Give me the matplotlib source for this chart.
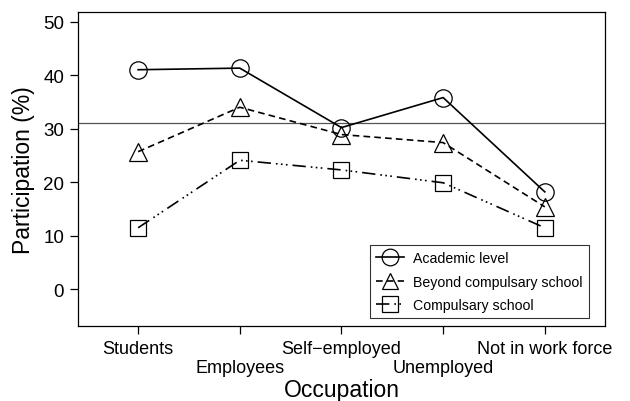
import matplotlib
matplotlib.use("Agg")
import matplotlib.pyplot as plt

plt.rcParams["font.family"] = ["Liberation Sans", "DejaVu Sans"]

occupations = ["Students", "Employees", "Self\u2212employed", "Unemployed", "Not in work force"]
academic = [41.0, 41.3, 30.2, 35.8, 18.2]
beyond = [25.7, 34.0, 28.9, 27.4, 15.4]
compulsary = [11.5, 24.1, 22.3, 19.9, 11.5]
ref_level = 31.1

x = list(range(1, len(occupations) + 1))

fig = plt.figure(figsize=(6.3, 4.02), dpi=100)
ax = fig.add_axes([0.124, 0.187, 0.836, 0.781])

ax.axhline(ref_level, color="#555555", lw=0.9, zorder=1)

mk = dict(markerfacecolor="none", markeredgecolor="black",
          markeredgewidth=0.9, color="black", lw=1.2)
ax.plot(x, academic, marker="o", ms=12.5, ls="-", label="Academic level", **mk)
ax.plot(x, beyond, marker="^", ms=13.5, ls=(0, (4, 2.5)), label="Beyond compulsary school", **mk)
ax.plot(x, compulsary, marker="s", ms=12, ls=(0, (8, 3, 1, 2, 1, 2, 1, 3)), label="Compulsary school", **mk)

ax.set_xlim(0.41, 5.59)
ax.set_ylim(-6.8, 51.8)
ax.set_yticks([0, 10, 20, 30, 40, 50])
# staggered category labels: odd positions on the first row, even ones below
ax.set_xticks(x[0::2])
ax.set_xticklabels(occupations[0::2])
ax.set_xticks(x[1::2], minor=True)
ax.set_xticklabels(occupations[1::2], minor=True)
ax.tick_params(axis="both", which="both", length=6, width=0.9, color="black")
ax.tick_params(axis="x", which="major", labelsize=13, pad=4)
ax.tick_params(axis="x", which="minor", labelsize=13, pad=18)
ax.tick_params(axis="y", labelsize=13.5, pad=4)
for sp in ax.spines.values():
    sp.set_linewidth(0.9)

ax.set_ylabel("Participation (%)", fontsize=16.5, labelpad=6)
ax.set_xlabel("Occupation", fontsize=16.5)
ax.xaxis.set_label_coords(0.5, -0.167)

leg = ax.legend(loc="lower right", bbox_to_anchor=(0.975, 0.015), fontsize=10.2,
                frameon=True, fancybox=False, edgecolor="black", handlelength=2.0,
                borderpad=0.45, labelspacing=0.66, handletextpad=0.6, borderaxespad=0.2)
leg.get_frame().set_linewidth(0.8)
for h in leg.legend_handles:
    h.set_markersize(12)

fig.savefig("out.png", dpi=100)
